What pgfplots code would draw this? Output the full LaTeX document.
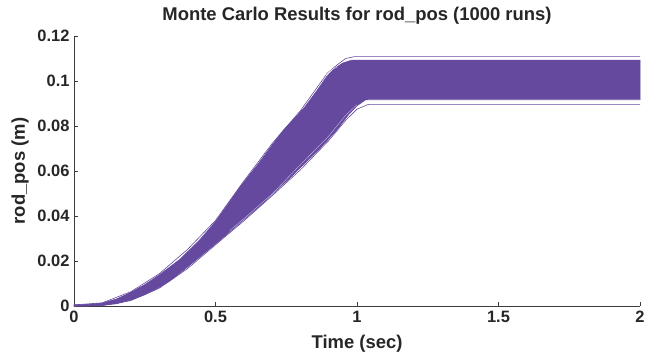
\documentclass[border=0pt]{standalone}
\usepackage{fontspec}
\setmainfont{Liberation Sans}
\usepackage{pgfplots}
\pgfplotsset{compat=1.18}
\definecolor{mcpurple}{RGB}{100,73,158}
\definecolor{axgray}{RGB}{60,60,60}
\begin{document}
\begin{tikzpicture}
\begin{axis}[
  name=ax,
  scale only axis,
  width=566bp, height=270bp,
  xmin=0, xmax=2, ymin=0, ymax=0.12,
  axis lines*=left,
  axis line style={axgray, line width=0.8pt},
  tick style={axgray, line width=0.6pt},
  tick align=inside,
  major tick length=4bp,
  xtick={0,0.5,1,1.5,2},
  xticklabels={0,0.5,1,1.5,2},
  ytick={0,0.02,0.04,0.06,0.08,0.1,0.12},
  yticklabels={0,0.02,0.04,0.06,0.08,0.1,0.12},
  /pgf/number format/assume math mode=true,
  tick label style={font=\bfseries\fontsize{16.5}{16.5}\selectfont, text=black!85},
  xticklabel style={yshift=-2bp},
  yticklabel style={xshift=-1bp},
  title={Monte Carlo Results for rod\_pos (1000 runs)},
  title style={font=\bfseries\fontsize{18.5}{18.5}\selectfont, text=black!85, at={(axis description cs:0.5,1)}, anchor=center, yshift=14bp},
  xlabel={Time (sec)},
  xlabel style={font=\bfseries\fontsize{18.5}{18.5}\selectfont, text=black!85, at={(axis description cs:0.5,0)}, anchor=center, yshift=-38bp},
  ylabel={rod\_pos (m)},
  ylabel style={font=\bfseries\fontsize{18.5}{18.5}\selectfont, text=black!85, at={(axis description cs:-0.095,0.5)}, anchor=center},
  clip=false,
]
% dense band of runs: upper envelope then lower envelope reversed
\addplot[draw=mcpurple, fill=mcpurple, line width=0.6pt] coordinates {
(0.00,0.0005) (0.05,0.0007) (0.10,0.0013) (0.15,0.0031) (0.20,0.0060) (0.25,0.0095)
(0.30,0.0137) (0.375,0.0208) (0.445,0.0295) (0.50,0.0375) (0.54,0.0445) (0.587,0.0530)
(0.65,0.0630) (0.70,0.0715) (0.739,0.0780) (0.78,0.0835) (0.816,0.0885) (0.86,0.0960)
(0.893,0.1020) (0.92,0.1055) (0.95,0.1080) (0.98,0.1092) (1.00,0.1093) (2.00,0.1093)
(2.00,0.0916)
(1.03,0.0916) (1.00,0.0890) (0.97,0.0850) (0.928,0.0782) (0.869,0.0700) (0.80,0.0615)
(0.763,0.0569) (0.716,0.0515) (0.657,0.0445) (0.587,0.0370) (0.516,0.0293) (0.427,0.0200)
(0.40,0.0172) (0.34,0.0113) (0.30,0.0082) (0.25,0.0050) (0.20,0.0026) (0.15,0.0010)
(0.10,0.0003) (0.05,0.0000) (0.00,0.0000)
} -- cycle;
% lighter runs near the lower edge of the plateau
\addplot[draw=mcpurple!75, line width=1.2pt] coordinates {(1.04,0.0919) (2,0.0919)};
% extreme runs
\addplot[mcpurple, line width=0.6pt] coordinates {
(0,0.0005) (0.1,0.0014) (0.2,0.0063) (0.3,0.0142) (0.4,0.0250) (0.5,0.0380)
(0.6,0.0555) (0.7,0.0722) (0.8,0.0868) (0.88,0.1008) (0.895,0.1035) (0.93,0.1072)
(0.96,0.1100) (0.99,0.1108) (2,0.1108)
};
\addplot[mcpurple, line width=0.6pt] coordinates {
(0,0) (0.1,0.0002) (0.2,0.0024) (0.3,0.0078) (0.4,0.0165) (0.5,0.0272)
(0.6,0.0378) (0.7,0.0490) (0.8,0.0605) (0.9,0.0735) (0.96,0.0825) (1.0,0.0875)
(1.04,0.0896) (2,0.0896)
};
\addplot[white, line width=0.4pt, opacity=0.6] coordinates {
(0.55,0.0335) (0.6,0.0388) (0.7,0.0498) (0.8,0.0628) (0.9,0.0755) (0.96,0.0848) (1.0,0.0895)
};
\addplot[white, line width=0.4pt, opacity=0.6] coordinates {
(0.89,0.1025) (0.91,0.1050) (0.93,0.1062)
};
\end{axis}
\pgfresetboundingbox
\path[use as bounding box] ([xshift=-74bp,yshift=-54bp]ax.south west) rectangle ([xshift=5bp,yshift=36bp]ax.north east);
\end{tikzpicture}
\end{document}
